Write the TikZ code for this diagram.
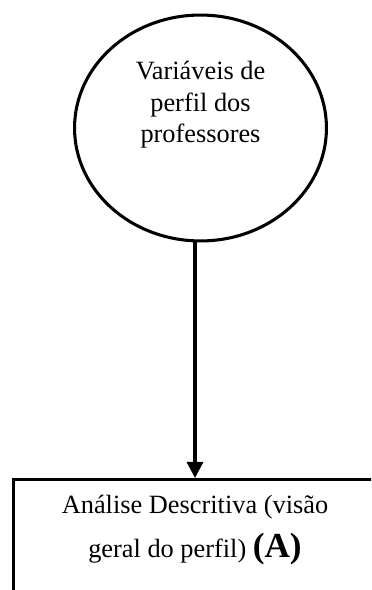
\documentclass[tikz,border=0pt]{standalone}
\usepackage{fontspec}
\setmainfont{Liberation Serif}
\usetikzlibrary{shapes.geometric,arrows.meta}

\tikzset{
    texto/.style={align=center, font=\fontsize{12}{14.3}\selectfont},
    elipse/.style={draw, ellipse, inner sep=0pt, minimum width=4.032cm, minimum height=3.616cm},
    caixa/.style={draw, texto, anchor=north, minimum width=5.824cm, inner sep=7pt, text depth=2cm},
    seta/.style={-{Triangle[length=7.3pt, width=7.3pt]}}
}

\begin{document}
\begin{tikzpicture}[x=0.016cm, y=-0.016cm, line width=1.4pt]
    \useasboundingbox (0,0) rectangle (371,590);
    \clip (0,0) rectangle (371,590);

    % Elipse das variaveis
    \node[elipse] (perfil) at (200.5,128) {};
    \node[texto] (perfiltxt) at (200.5,105) {Variáveis de\\perfil dos\\professores};

    % Caixa da analise (cortada na margem)
    \node[caixa] (analise) at (195,478) {Análise Descritiva (visão\\[6pt]geral do perfil) {\fontsize{16}{19}\selectfont\bfseries (A)}};

    % Seta
    \draw[seta] (perfil.south -| analise.north) -- (analise.north);
\end{tikzpicture}
\end{document}
